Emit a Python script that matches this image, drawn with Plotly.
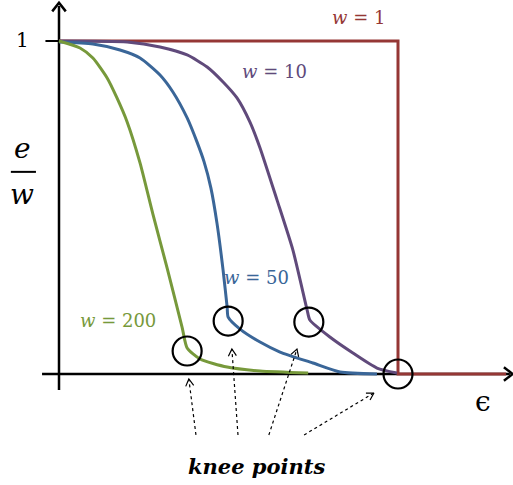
import math
import plotly.graph_objects as go

# ---- data (epsilon scaled so the w=1 drop is at 1; y = e/w) ----
green_x = [0, 0.062, 0.100, 0.142, 0.171, 0.201, 0.239, 0.277, 0.319, 0.363, 0.378, 0.416, 0.496, 0.593, 0.735]
green_y = [1.000, 0.979, 0.949, 0.889, 0.829, 0.757, 0.634, 0.480, 0.318, 0.141, 0.078, 0.045, 0.021, 0.009, 0.003]

blue_x = [0, 0.100, 0.180, 0.239, 0.298, 0.336, 0.378, 0.407, 0.428, 0.448, 0.466, 0.484, 0.496, 0.499, 0.534, 0.593, 0.652, 0.749, 0.829, 0.938]
blue_y = [0.997, 0.991, 0.973, 0.949, 0.898, 0.847, 0.769, 0.697, 0.637, 0.559, 0.453, 0.312, 0.201, 0.171, 0.135, 0.096, 0.066, 0.033, 0.006, 0.000]

purple_x = [0, 0.201, 0.298, 0.378, 0.437, 0.484, 0.525, 0.563, 0.593, 0.643, 0.690, 0.732, 0.740, 0.799, 0.867, 0.938, 0.997]
purple_y = [1.000, 0.997, 0.982, 0.958, 0.922, 0.877, 0.829, 0.757, 0.679, 0.523, 0.372, 0.192, 0.162, 0.111, 0.063, 0.018, 0.003]

red_x = [0, 1.0, 1.0, 1.319]
red_y = [1.0, 1.0, 0.0, 0.0]

knee_x = [0.378, 0.499, 0.737, 1.0]
knee_y = [0.069, 0.159, 0.156, 0.0]

arrow_tail_x = [0.404, 0.528, 0.619, 0.723]
arrow_tail_y = [-0.183, -0.183, -0.183, -0.183]
arrow_head_x = [0.383, 0.510, 0.702, 0.929]
arrow_head_y = [-0.015, 0.075, 0.075, -0.057]

RED = "#953735"
PURPLE = "#604A7B"
BLUE = "#3A6698"
GREEN = "#77993B"

# pixel mapping (used only for arrowhead geometry and axis ranges)
W, H = 513, 485
X0, SX = 59, 339
Y0, SY = 374, 333

def to_px(x, y):
    return X0 + x * SX, Y0 - y * SY

def to_data(px, py):
    return (px - X0) / SX, (Y0 - py) / SY

def vhead(hx, hy, tx, ty, L=8, ang=32):
    hpx, hpy = to_px(hx, hy)
    tpx, tpy = to_px(tx, ty)
    dx, dy = tpx - hpx, tpy - hpy
    n = math.hypot(dx, dy)
    dx, dy = dx / n, dy / n
    pts = []
    for s in (1, -1):
        a = math.radians(ang) * s
        rx = dx * math.cos(a) - dy * math.sin(a)
        ry = dx * math.sin(a) + dy * math.cos(a)
        pts.append(to_data(hpx + L * rx, hpy + L * ry))
    return [pts[0][0], hx, pts[1][0]], [pts[0][1], hy, pts[1][1]]

fig = go.Figure()

# axes
fig.add_trace(go.Scatter(x=[-0.050, 1.330], y=[0, 0], mode="lines",
                         line=dict(color="black", width=2.5), hoverinfo="skip"))
fig.add_trace(go.Scatter(x=[0, 0], y=[-0.048, 1.105], mode="lines",
                         line=dict(color="black", width=2.5), hoverinfo="skip"))
# tick at 1
fig.add_trace(go.Scatter(x=[-0.040, 0], y=[1.0, 1.0], mode="lines",
                         line=dict(color="black", width=2), hoverinfo="skip"))

# curves
SM = 0.6
fig.add_trace(go.Scatter(x=red_x, y=red_y, mode="lines", line=dict(color=RED, width=3)))
fig.add_trace(go.Scatter(x=purple_x, y=purple_y, mode="lines", line=dict(color=PURPLE, width=3, shape="spline", smoothing=SM)))
fig.add_trace(go.Scatter(x=blue_x, y=blue_y, mode="lines", line=dict(color=BLUE, width=3, shape="spline", smoothing=SM)))
fig.add_trace(go.Scatter(x=green_x, y=green_y, mode="lines", line=dict(color=GREEN, width=3, shape="spline", smoothing=SM)))

# axis arrowheads
ax_x, ax_y = vhead(1.338, 0, 1.0, 0, L=11, ang=38)
fig.add_trace(go.Scatter(x=ax_x, y=ax_y, mode="lines", line=dict(color="black", width=2.5)))
ay_x, ay_y = vhead(0, 1.115, 0, 0.9, L=11, ang=38)
fig.add_trace(go.Scatter(x=ay_x, y=ay_y, mode="lines", line=dict(color="black", width=2.5)))

# knee circles
fig.add_trace(go.Scatter(x=knee_x, y=knee_y, mode="markers",
                         marker=dict(symbol="circle-open", size=29, color="black", line=dict(width=2.2, color="black"))))

# dotted arrows
for tx, ty, hx, hy in zip(arrow_tail_x, arrow_tail_y, arrow_head_x, arrow_head_y):
    fig.add_trace(go.Scatter(x=[tx, hx], y=[ty, hy], mode="lines",
                             line=dict(color="black", width=1.2, dash="dot")))
    vx, vy = vhead(hx, hy, tx, ty, L=8, ang=30)
    fig.add_trace(go.Scatter(x=vx, y=vy, mode="lines", line=dict(color="black", width=1.2)))

MATH = "DejaVu Serif"
ann = [
    dict(x=0.882, y=1.072, text="<i>w</i> = 1", color=RED, size=18),
    dict(x=0.637, y=0.907, text="<i>w</i> = 10", color=PURPLE, size=18),
    dict(x=0.584, y=0.291, text="<i>w</i> = 50", color=BLUE, size=18),
    dict(x=0.174, y=0.162, text="<i>w</i> = 200", color=GREEN, size=18),
    dict(x=-0.109, y=1.003, text="1", color="black", size=20),
    dict(x=1.251, y=-0.084, text="ϵ", color="black", size=28),
    dict(x=-0.108, y=0.676, text="<i>e</i>", color="black", size=28),
    dict(x=-0.108, y=0.538, text="<i>w</i>", color="black", size=28),
    dict(x=0.584, y=-0.279, text="<b><i>knee points</i></b>", color="black", size=21),
]
for a in ann:
    fig.add_annotation(x=a["x"], y=a["y"], text=a["text"], showarrow=False,
                       xanchor="center", yanchor="middle",
                       font=dict(family=MATH, size=a["size"], color=a["color"]))

# fraction bar
fig.add_shape(type="line", x0=-0.142, x1=-0.068, y0=0.607, y1=0.607,
              line=dict(color="black", width=2))

fig.update_layout(
    width=W, height=H, margin=dict(l=0, r=0, t=0, b=0),
    paper_bgcolor="white", plot_bgcolor="white", showlegend=False,
    xaxis=dict(range=[(0 - X0) / SX, (W - X0) / SX], visible=False, fixedrange=True),
    yaxis=dict(range=[(Y0 - H) / SY, Y0 / SY], visible=False, fixedrange=True),
)
fig.write_html("out.html", config={"displayModeBar": False},
               post_script="document.body.style.margin='0px';document.body.style.overflow='hidden';")
